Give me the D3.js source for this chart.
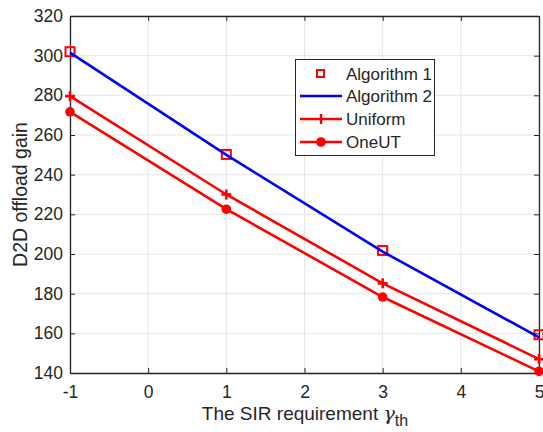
<!DOCTYPE html>
<html>
<head>
<meta charset="utf-8">
<script src="https://cdn.jsdelivr.net/npm/d3@7"></script>
<style>
  body { margin: 0; background: #fff; }
  text { font-family: "Liberation Sans", Arial, sans-serif; fill: #262626; }
</style>
</head>
<body>
<svg id="chart"></svg>
<script>
const gammaTh = [-1, 1, 3, 5];
const algorithm1 = [302, 250.2, 201.8, 159.3];
const algorithm2 = [301.5, 250, 201.2, 158];
const uniform = [279.6, 230, 185.2, 147];
const oneUT = [271.7, 222.6, 178.3, 140.8];
const xTicks = [-1, 0, 1, 2, 3, 4, 5];
const yTicks = [140, 160, 180, 200, 220, 240, 260, 280, 300, 320];

const width = 469;
const height = 357;
const margin = {top: 16, left: 70, bottom: 59, right: 4};

let svg = d3.select("#chart")
    .attr("width", width + margin.left + margin.right)
    .attr("height", height + margin.top + margin.bottom);

let g = svg.append("g")
    .attr("transform", `translate(${margin.left}, ${margin.top})`);

let x = d3.scaleLinear().domain([-1, 5]).range([0, width]);
let y = d3.scaleLinear().domain([140, 320]).range([height, 0]);

// grid
g.selectAll(".vgrid").data(xTicks).enter().append("line")
    .attr("x1", d => x(d)).attr("x2", d => x(d))
    .attr("y1", 0).attr("y2", height)
    .attr("stroke", "#e6e6e6").attr("stroke-width", 1);
g.selectAll(".hgrid").data(yTicks).enter().append("line")
    .attr("y1", d => y(d)).attr("y2", d => y(d))
    .attr("x1", 0).attr("x2", width)
    .attr("stroke", "#e6e6e6").attr("stroke-width", 1);

// axes (ticks inward, MATLAB style)
const fmt = d => String(d);
let xAxis = g.append("g")
    .attr("transform", `translate(0, ${height})`)
    .call(d3.axisBottom(x).tickValues(xTicks).tickFormat(fmt).tickSizeInner(-5).tickSizeOuter(0).tickPadding(13));
let xTop = g.append("g")
    .call(d3.axisTop(x).tickValues(xTicks).tickSizeInner(-5).tickSizeOuter(0).tickFormat(""));
let yAxis = g.append("g")
    .call(d3.axisLeft(y).tickValues(yTicks).tickFormat(fmt).tickSizeInner(-5).tickSizeOuter(0).tickPadding(7));
let yRight = g.append("g")
    .attr("transform", `translate(${width}, 0)`)
    .call(d3.axisRight(y).tickValues(yTicks).tickSizeInner(-5).tickSizeOuter(0).tickFormat(""));

[xAxis, xTop, yAxis, yRight].forEach(a => {
    a.select(".domain").attr("stroke", "#262626").attr("stroke-width", 1.3);
    a.selectAll(".tick line").attr("stroke", "#262626");
    a.selectAll("text").style("font-size", "17.5px").attr("fill", "#262626")
        .style("font-family", "'Liberation Sans', Arial, sans-serif");
});

let line = d3.line()
    .x((d, i) => x(gammaTh[i]))
    .y(d => y(d));

// Algorithm 1 markers
g.selectAll(".sq").data(algorithm1).enter().append("rect")
    .attr("x", (d, i) => x(gammaTh[i]) - 4.5)
    .attr("y", d => y(d) - 4.5)
    .attr("width", 9).attr("height", 9)
    .attr("fill", "none").attr("stroke", "#ff0000").attr("stroke-width", 2);

// Algorithm 2
g.append("path").datum(algorithm2)
    .attr("d", line).attr("fill", "none")
    .attr("stroke", "#0000ff").attr("stroke-width", 2.6);

// Uniform
g.append("path").datum(uniform)
    .attr("d", line).attr("fill", "none")
    .attr("stroke", "#ff0000").attr("stroke-width", 2.6);
g.selectAll(".plus").data(uniform).enter().append("path")
    .attr("d", (d, i) => {
        let cx = x(gammaTh[i]), cy = y(d);
        return `M${cx - 5},${cy}H${cx + 5}M${cx},${cy - 5}V${cy + 5}`;
    })
    .attr("stroke", "#ff0000").attr("stroke-width", 2.6);

// OneUT
g.append("path").datum(oneUT)
    .attr("d", line).attr("fill", "none")
    .attr("stroke", "#ff0000").attr("stroke-width", 2.6);
g.selectAll(".dot").data(oneUT).enter().append("circle")
    .attr("cx", (d, i) => x(gammaTh[i]))
    .attr("cy", d => y(d))
    .attr("r", 4.8)
    .attr("fill", "#ff0000");

// axis labels
svg.append("text")
    .attr("x", 305)
    .attr("y", 420)
    .attr("text-anchor", "middle")
    .style("font-size", "19px")
    .html('The SIR requirement <tspan style="font-family:\'DejaVu Serif\', serif; font-style:italic">γ</tspan><tspan dy="6" style="font-size:16px">th</tspan>');

svg.append("text")
    .attr("transform", `translate(27, ${margin.top + height / 2}) rotate(-90)`)
    .attr("text-anchor", "middle")
    .style("font-size", "19.5px")
    .text("D2D offload gain");

// legend
let legend = svg.append("g");
legend.append("rect")
    .attr("x", 295.5).attr("y", 59.5)
    .attr("width", 139).attr("height", 96)
    .attr("fill", "#fff").attr("stroke", "#262626").attr("stroke-width", 1);

const legendNames = ["Algorithm 1", "Algorithm 2", "Uniform", "OneUT"];
const rowY = [73.5, 96, 119, 142];
legendNames.forEach((name, i) => {
    let ly = rowY[i];
    if (i === 0) {
        legend.append("rect")
            .attr("x", 317).attr("y", ly - 3.5)
            .attr("width", 7).attr("height", 7)
            .attr("fill", "none").attr("stroke", "#ff0000").attr("stroke-width", 2);
    } else {
        legend.append("line")
            .attr("x1", 300).attr("x2", 342)
            .attr("y1", ly).attr("y2", ly)
            .attr("stroke", i === 1 ? "#0000ff" : "#ff0000").attr("stroke-width", 2.6);
    }
    if (i === 2) {
        legend.append("path")
            .attr("d", `M321,${ly - 5}V${ly + 5}`)
            .attr("stroke", "#ff0000").attr("stroke-width", 2.4);
    }
    if (i === 3) {
        legend.append("circle")
            .attr("cx", 321).attr("cy", ly).attr("r", 4.8)
            .attr("fill", "#ff0000");
    }
    legend.append("text")
        .attr("x", 346).attr("y", ly + 6)
        .style("font-size", "17px")
        .text(name);
});
</script>
</body>
</html>
